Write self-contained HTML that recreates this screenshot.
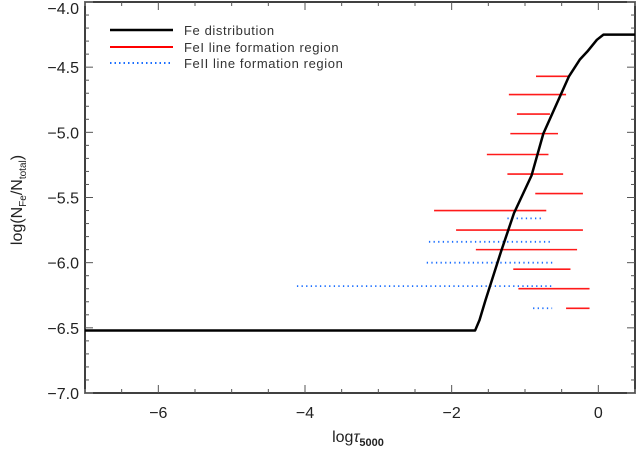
<!DOCTYPE html>
<html><head><meta charset="utf-8">
<style>
html,body{margin:0;padding:0;background:#fff;}
svg{display:block;font-family:"Liberation Sans","DejaVu Sans",sans-serif;}
</style></head>
<body>
<svg id="chart" width="637" height="450" viewBox="0 0 637 450">
<g id="axes"></g>
<g id="series"></g>
<g id="legend">
  <line x1="110" y1="30" x2="173" y2="30" stroke="#000" stroke-width="2.5"/>
  <text x="184" y="35" font-size="13" fill="#333" letter-spacing="0.6">Fe distribution</text>
  <line x1="110" y1="47" x2="173" y2="47" stroke="#ff0000" stroke-width="2"/>
  <text x="184" y="52" font-size="13" fill="#333" letter-spacing="0.6">FeI line formation region</text>
  <line x1="110" y1="63" x2="173" y2="63" stroke="#1a6eff" stroke-width="2" stroke-dasharray="1.5,3"/>
  <text x="184" y="68" font-size="13" fill="#333" letter-spacing="0.6">FeII line formation region</text>
</g>
<text x="358" y="442" font-size="16" text-anchor="middle" fill="#222">log<tspan font-style="italic">τ</tspan><tspan font-size="11" font-weight="bold" dy="4">5000</tspan></text>
<text transform="translate(22,200) rotate(-90)" font-size="16" text-anchor="middle" fill="#222">log(N<tspan font-size="10" dy="4">Fe</tspan><tspan dy="-4">/N</tspan><tspan font-size="10" dy="4">total</tspan><tspan dy="-4">)</tspan></text>
</svg>
<script>
const curveX=[-7.0,-1.68,-1.62,-1.54,-1.33,-1.15,-0.91,-0.75,-0.40,-0.25,-0.15,-0.02,0.07,0.5];
const curveY=[-6.52,-6.52,-6.44,-6.29,-5.92,-5.62,-5.33,-5.01,-4.57,-4.44,-4.38,-4.29,-4.25,-4.25];
const feiY=[-4.57,-4.71,-4.86,-5.01,-5.17,-5.32,-5.47,-5.60,-5.75,-5.90,-6.05,-6.20,-6.35];
const feiStart=[-0.85,-1.22,-1.11,-1.20,-1.52,-1.24,-0.86,-2.24,-1.94,-1.67,-1.16,-1.09,-0.44];
const feiEnd=[-0.40,-0.44,-0.66,-0.55,-0.68,-0.48,-0.21,-0.71,-0.21,-0.29,-0.38,-0.12,-0.12];
const feiiY=[-5.66,-5.84,-6.00,-6.18,-6.35];
const feiiStart=[-1.24,-2.31,-2.34,-4.11,-0.89];
const feiiEnd=[-0.78,-0.63,-0.60,-0.63,-0.63];
const xTickLabels=["−6","−4","−2","0"];
const xTickValues=[-6,-4,-2,0];
const yTickLabels=["−4.0","−4.5","−5.0","−5.5","−6.0","−6.5","−7.0"];
const yTickValues=[-4.0,-4.5,-5.0,-5.5,-6.0,-6.5,-7.0];

const L=85,R=635,T=2,B=393;
const XMIN=-7,XMAX=0.5,YMIN=-7.0,YMAX=-4.0;
const sx=v=>L+(v-XMIN)/(XMAX-XMIN)*(R-L);
const sy=v=>B-(v-YMIN)/(YMAX-YMIN)*(B-T);
const NS="http://www.w3.org/2000/svg";
function mk(tag,attrs,parent){const e=document.createElementNS(NS,tag);for(const k in attrs)e.setAttribute(k,attrs[k]);parent.appendChild(e);return e;}
const ax=document.getElementById('axes'),se=document.getElementById('series');

let fr=mk('rect',{x:L,y:T,width:R-L,height:B-T,fill:'none',stroke:'#000','stroke-width':1.5},ax);


for(let v=-7;v<=0.5001;v+=0.5){
  const major=Math.abs(v-Math.round(v/2)*2)<1e-6;
  const len=major?8:4,x=sx(v);
  let t1=mk('line',{x1:x,y1:B,x2:x,y2:B-len,stroke:'#555','stroke-width':1},ax);
  
  
  let t2=mk('line',{x1:x,y1:T,x2:x,y2:T+len,stroke:'#555','stroke-width':1},ax);
  
  
}
xTickValues.forEach((v,i)=>{
  let t=mk('text',{x:sx(v),y:418,'font-size':16,'text-anchor':'middle',fill:'#222'},ax);
  t.textContent=xTickLabels[i];
  
  
});
for(let k=0;k<=30;k++){
  const v=-7+k*0.1;const major=k%5===0;const len=major?8:4;const y=sy(v);
  let t1=mk('line',{x1:L,y1:y,x2:L+len,y2:y,stroke:'#555','stroke-width':1},ax);
  
  
  let t2=mk('line',{x1:R,y1:y,x2:R-len,y2:y,stroke:'#555','stroke-width':1},ax);
  
  
}
yTickValues.forEach((v,i)=>{
  let y=sy(v)+6; if(y<14) y=14;
  let t=mk('text',{x:79,y:y,'font-size':16,'text-anchor':'end',fill:'#222'},ax);
  t.textContent=yTickLabels[i];
  
  
});
feiY.forEach((v,i)=>{
  let l=mk('line',{x1:sx(feiStart[i]),y1:sy(v),x2:sx(feiEnd[i]),y2:sy(v),stroke:'#ff1a1a','stroke-width':1.6},se);
  
  
});
feiiY.forEach((v,i)=>{
  let l=mk('line',{x1:sx(feiiStart[i]),y1:sy(v),x2:sx(feiiEnd[i]),y2:sy(v),stroke:'#1a6eff','stroke-width':1.8,'stroke-dasharray':'1.3,3.3'},se);
  
  
});
let p=mk('polyline',{points:curveX.map((x,i)=>sx(x)+','+sy(curveY[i])).join(' '),fill:'none',stroke:'#000','stroke-width':2.5,'stroke-linejoin':'round'},se);


</script>
</body></html>
